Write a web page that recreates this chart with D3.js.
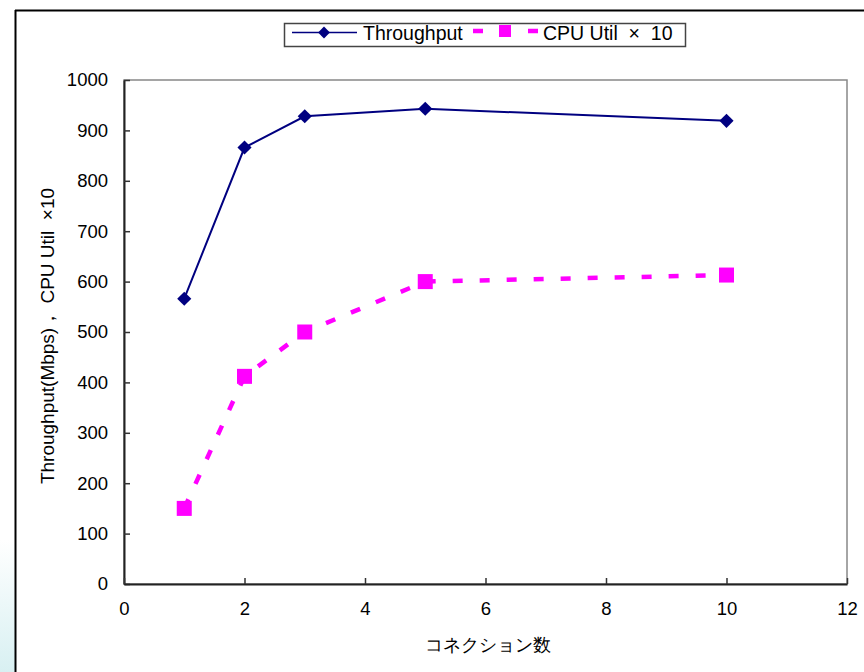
<!DOCTYPE html>
<html>
<head>
<meta charset="utf-8">
<script src="https://cdn.jsdelivr.net/npm/d3@7"></script>
<style>
  body { margin: 0; background: #fff; }
  text { font-family: "Liberation Sans", Arial, sans-serif; fill: #000; white-space: pre; }
</style>
</head>
<body>
<script>
// data
const connections = [1, 2, 3, 5, 10];
const throughput = [566, 866, 928, 943, 919];
const cpuUtil10 = [150, 412, 500, 600, 613];
const xTicks = [0, 2, 4, 6, 8, 10, 12];
const yTicks = [0, 100, 200, 300, 400, 500, 600, 700, 800, 900, 1000];

const width = 864, height = 672;
const plot = {left: 124, top: 80, right: 847, bottom: 584};

const svg = d3.select("body").append("svg")
    .attr("width", width)
    .attr("height", height);

// light decoration at bottom-left
const defs = svg.append("defs");
const grad = defs.append("linearGradient").attr("id", "edge")
    .attr("x1", 0).attr("y1", 0).attr("x2", 0).attr("y2", 1);
grad.append("stop").attr("offset", "0%").attr("stop-color", "#ffffff");
grad.append("stop").attr("offset", "100%").attr("stop-color", "#d8f0f2");
svg.append("rect").attr("x", 0).attr("y", 540).attr("width", 15).attr("height", 132)
    .attr("fill", "url(#edge)");

// chart frame
svg.append("line").attr("x1", 15).attr("x2", width).attr("y1", 10.5).attr("y2", 10.5)
    .attr("stroke", "#000").attr("stroke-width", 2);
svg.append("line").attr("x1", 15.5).attr("x2", 15.5).attr("y1", 10).attr("y2", height)
    .attr("stroke", "#000").attr("stroke-width", 2);

const x = d3.scaleLinear().domain([0, 12]).range([plot.left, plot.right]);
const y = d3.scaleLinear().domain([0, 1000]).range([plot.bottom, plot.top]);

// plot area border
svg.append("rect")
    .attr("x", plot.left).attr("y", plot.top)
    .attr("width", plot.right - plot.left).attr("height", plot.bottom - plot.top)
    .attr("fill", "none").attr("stroke", "#888").attr("stroke-width", 1.5);

// axes
const yAxis = svg.append("g")
    .attr("transform", `translate(${plot.left},0)`)
    .call(d3.axisLeft(y).tickValues(yTicks).tickFormat(d3.format("d"))
        .tickSizeInner(-6).tickSizeOuter(0).tickPadding(16));
const xAxis = svg.append("g")
    .attr("transform", `translate(0,${plot.bottom})`)
    .call(d3.axisBottom(x).tickValues(xTicks).tickFormat(d3.format("d"))
        .tickSizeInner(-6).tickSizeOuter(0).tickPadding(18));

[xAxis, yAxis].forEach(g => {
    g.select(".domain").attr("stroke", "#222").attr("stroke-width", 2);
    g.selectAll(".tick line").attr("stroke", "#333").attr("stroke-width", 1.5);
    g.selectAll(".tick text").style("font-size", "18.5px")
        .style("font-family", "'Liberation Sans', Arial, sans-serif").attr("fill", "#000");
});

// axis titles
svg.append("text")
    .attr("x", (plot.left + plot.right) / 2 + 2)
    .attr("y", 651)
    .attr("text-anchor", "middle")
    .style("font-size", "18px")
    .text("コネクション数");

svg.append("text")
    .attr("transform", `translate(54,${(plot.top + plot.bottom) / 2 + 4}) rotate(-90)`)
    .attr("text-anchor", "middle")
    .style("font-size", "19px")
    .text("Throughput(Mbps)， CPU Util  ×10");

// series
const navy = "#000080", magenta = "#ff00ff";

const line = d3.line().x((d, i) => x(connections[i])).y(d => y(d));
svg.append("path")
    .datum(throughput)
    .attr("d", line)
    .attr("fill", "none").attr("stroke", navy).attr("stroke-width", 2);

svg.append("path")
    .datum(cpuUtil10)
    .attr("d", line)
    .attr("fill", "none").attr("stroke", magenta).attr("stroke-width", 4.5)
    .attr("stroke-dasharray", "10,17");

const diamond = d3.symbol().type(d3.symbolSquare).size(100);
svg.selectAll(".thr")
    .data(throughput)
    .join("path")
    .attr("class", "thr")
    .attr("d", diamond)
    .attr("transform", (d, i) => `translate(${x(connections[i])},${y(d)}) rotate(45)`)
    .attr("fill", navy);

svg.selectAll(".cpu")
    .data(cpuUtil10)
    .join("rect")
    .attr("class", "cpu")
    .attr("x", (d, i) => x(connections[i]) - 7.5)
    .attr("y", d => y(d) - 7.5)
    .attr("width", 15).attr("height", 15)
    .attr("fill", magenta);

// legend
const lg = svg.append("g");
lg.append("rect").attr("x", 284.5).attr("y", 23.5).attr("width", 401).attr("height", 23)
    .attr("fill", "#fff").attr("stroke", "#444").attr("stroke-width", 1.5);
lg.append("line").attr("x1", 292).attr("x2", 357).attr("y1", 32.5).attr("y2", 32.5)
    .attr("stroke", navy).attr("stroke-width", 1.5);
lg.append("path").attr("d", d3.symbol().type(d3.symbolSquare).size(70))
    .attr("transform", "translate(324,32.5) rotate(45)").attr("fill", navy);
lg.append("text").attr("x", 363).attr("y", 40).style("font-size", "19.5px").text("Throughput");

lg.append("line").attr("x1", 473).attr("x2", 538).attr("y1", 31).attr("y2", 31)
    .attr("stroke", magenta).attr("stroke-width", 4.5).attr("stroke-dasharray", "10,45");
lg.append("rect").attr("x", 499).attr("y", 25).attr("width", 12).attr("height", 12)
    .attr("fill", magenta);
lg.append("text").attr("x", 543).attr("y", 40).style("font-size", "19.5px").text("CPU Util  ×  10");
</script>
</body>
</html>
